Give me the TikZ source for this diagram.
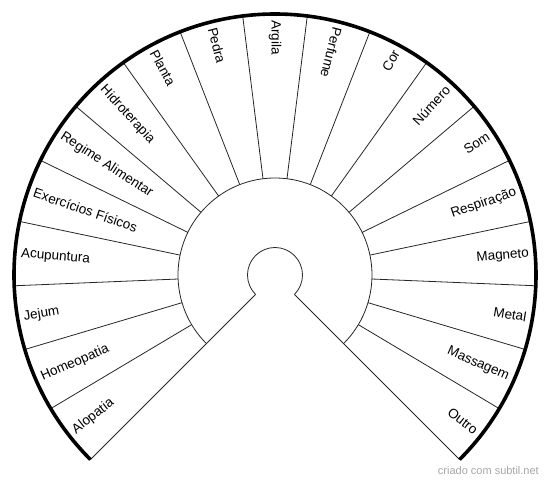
\documentclass[tikz,border=0pt]{standalone}
\usepackage{fontspec}
\setmainfont{Liberation Sans}
\usetikzlibrary{calc}

\newcommand{\rsmall}{27.5}
\newcommand{\rmid}{97}
\newcommand{\rout}{261}
\newcommand{\rlab}{255}

\begin{document}
\begin{tikzpicture}[x=1pt, y=1pt,
    spoke/.style={black!85, line width=0.8pt},
    rim/.style={black, line width=3.6pt},
    sectorlabel/.style={font=\fontsize{13.5}{16}\selectfont, inner sep=0pt}]
    \useasboundingbox (-275,-207) rectangle (275,275);

    % boundaries between the sectors
    \foreach \k in {1,...,18}
        \draw[spoke] ({225-\k*270/19}:\rmid) -- ({225-\k*270/19}:\rout);

    % the open wedge at the bottom
    \draw[spoke] (225:\rsmall) -- (225:\rout);
    \draw[spoke] (-45:\rsmall) -- (-45:\rout);

    % inner rings
    \draw[spoke] (225:\rsmall) arc[start angle=225, end angle=-45, radius=\rsmall];
    \draw[spoke] (225:\rmid) arc[start angle=225, end angle=-45, radius=\rmid];

    % outer rim
    \draw[rim] (225:\rout) arc[start angle=225, end angle=-45, radius=\rout];

    % labels
    \foreach \name [count=\k] in {Alopatia, Homeopatia, Jejum, Acupuntura,
        Exercícios Físicos, Regime Alimentar, Hidroterapia, Planta, Pedra,
        Argila, Perfume, Cor, Número, Som, Respiração, Magneto, Metal,
        Massagem, Outro} {
        \pgfmathsetmacro{\ang}{225-(\k-0.5)*270/19}
        \ifdim\ang pt>70pt
            \node[sectorlabel, anchor=west, rotate=\ang-180] (lab\k) at (\ang:\rlab) {\name};
        \else
            \node[sectorlabel, anchor=east, rotate=\ang] (lab\k) at (\ang:\rlab) {\name};
        \fi
    }

    \node[anchor=east, text=black!35, font=\fontsize{11}{13}\selectfont, inner sep=0pt]
        (credit) at (264,-196) {criado com subtil.net};
\end{tikzpicture}
\end{document}
